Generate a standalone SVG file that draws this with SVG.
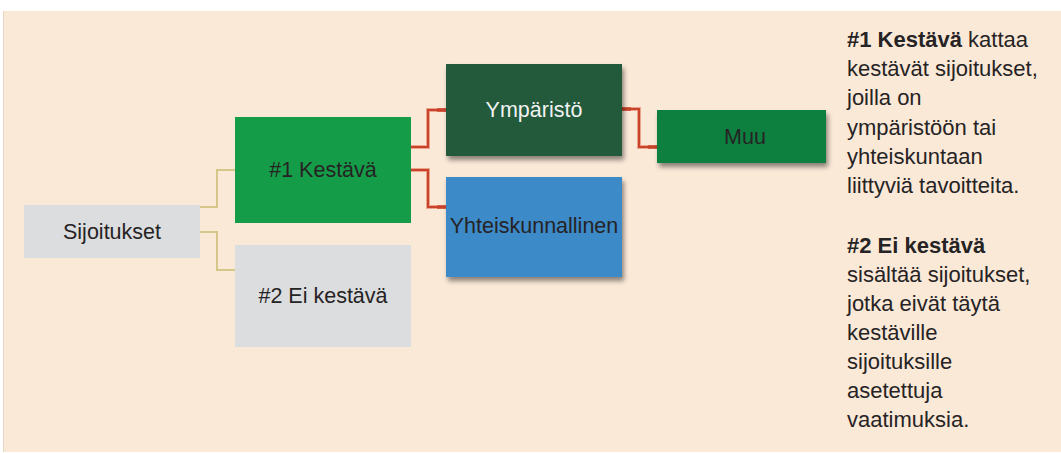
<svg xmlns="http://www.w3.org/2000/svg" width="1061" height="453" viewBox="0 0 1061 453">
<defs>
<filter id="sh" x="-10%" y="-10%" width="130%" height="140%">
<feGaussianBlur in="SourceAlpha" stdDeviation="2.5"/>
<feOffset dx="2" dy="4" result="b"/>
<feComponentTransfer><feFuncA type="linear" slope="0.45"/></feComponentTransfer>
<feMerge><feMergeNode/><feMergeNode in="SourceGraphic"/></feMerge>
</filter>
</defs>
<style>
.t{font-family:"Liberation Sans",Arial,sans-serif;font-size:21.5px;fill:#262324;text-anchor:middle}
.w{fill:#F2F2F2}
.d{font-family:"Liberation Sans",Arial,sans-serif;font-size:22px;fill:#262324}
.b{font-weight:bold}
.y{fill:none;stroke:#D5C68A;stroke-width:2}
.rg{fill:none;stroke:#EBA58F;stroke-width:4}
.r{fill:none;stroke:#C9432A;stroke-width:2}
.rs{fill:none;stroke:#C9432A;stroke-width:3.5}
</style>
<rect x="3" y="11" width="1058" height="441" fill="#FBE9D8"/>
<line x1="3.5" y1="11" x2="3.5" y2="452" stroke="#E6D6C6" stroke-width="1"/>
<g id="connectors">
<path class="y" d="M200 207 H217 V170 H235"/>
<path class="y" d="M200 232 H217 V270 H235"/>
<path class="rg" d="M411 147 H428 V110 H446"/>
<path class="r" d="M411 147 H428 V110 H446"/>
<path class="rs" d="M437 110 H446"/>
<path class="rg" d="M411 170 H428 V207 H446"/>
<path class="r" d="M411 170 H428 V207 H446"/>
<path class="rs" d="M437 207 H446"/>
<path class="rg" d="M622 109 H639 V147 H657"/>
<path class="r" d="M622 109 H639 V147 H657"/>
<path class="rs" d="M622 109 H631"/>
<path class="rs" d="M648 147 H657"/>
</g>
<g id="sijoitukset">
<rect x="24" y="205" width="176" height="53" fill="#DCDDDE"/>
<text class="t" x="112" y="239">Sijoitukset</text>
</g>
<g id="kestava">
<rect x="235" y="117" width="176" height="106" fill="#159C48"/>
<text class="t" x="323" y="177">#1 Kestävä</text>
</g>
<g id="eikestava">
<rect x="235" y="245" width="176" height="102" fill="#DCDDDE"/>
<text class="t" x="323" y="303">#2 Ei kestävä</text>
</g>
<g id="ymparisto">
<rect x="446" y="64" width="176" height="92" fill="#225A3A" filter="url(#sh)"/>
<text class="t w" x="534" y="117">Ympäristö</text>
</g>
<g id="yhteiskunnallinen">
<rect x="446" y="177" width="176" height="100" fill="#3E8AC8" filter="url(#sh)"/>
<text class="t" x="534" y="233">Yhteiskunnallinen</text>
</g>
<g id="muu">
<rect x="657" y="110" width="169" height="53" fill="#0F8040" filter="url(#sh)"/>
<text class="t" x="745" y="144">Muu</text>
</g>
<g id="description">
<text class="d" x="847" y="47"><tspan class="b">#1 Kestävä</tspan> kattaa</text>
<text class="d" x="847" y="76">kestävät sijoitukset,</text>
<text class="d" x="847" y="105">joilla on</text>
<text class="d" x="847" y="135">ympäristöön tai</text>
<text class="d" x="847" y="164">yhteiskuntaan</text>
<text class="d" x="847" y="193">liittyviä tavoitteita.</text>
<text class="d b" x="847" y="253">#2 Ei kestävä</text>
<text class="d" x="847" y="282">sisältää sijoitukset,</text>
<text class="d" x="847" y="311">jotka eivät täytä</text>
<text class="d" x="847" y="340">kestäville</text>
<text class="d" x="847" y="369">sijoituksille</text>
<text class="d" x="847" y="398">asetettuja</text>
<text class="d" x="847" y="427">vaatimuksia.</text>
</g>
</svg>
